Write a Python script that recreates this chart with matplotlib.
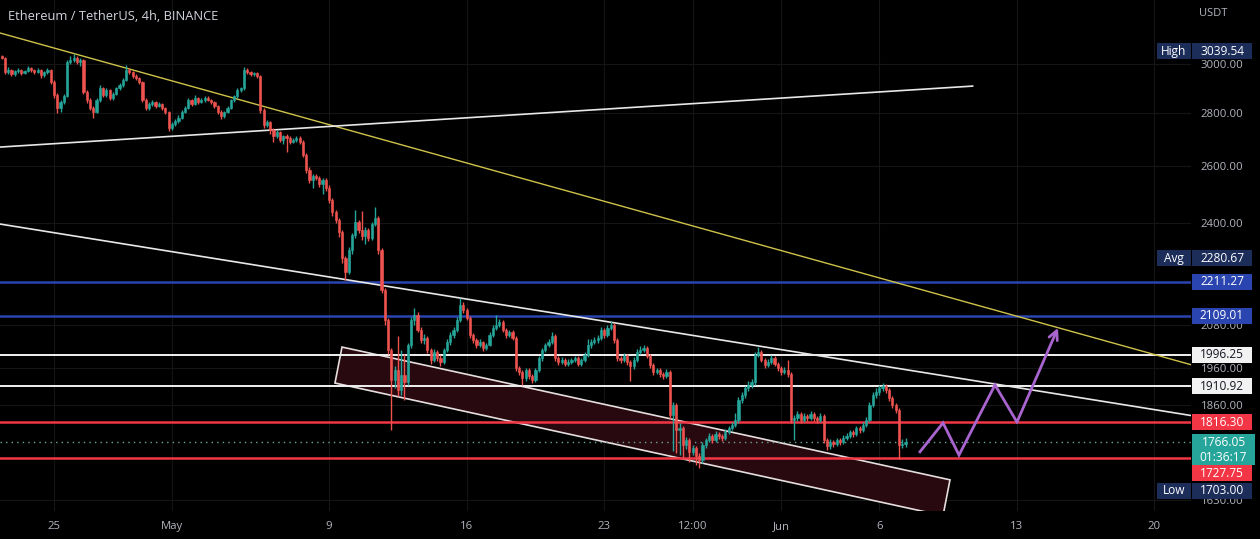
import matplotlib
matplotlib.use("Agg")
import matplotlib.pyplot as plt
import matplotlib.dates as mdates
import numpy as np
import pandas as pd
from matplotlib.patches import Polygon, Rectangle
from matplotlib.ticker import FixedLocator, NullLocator, FuncFormatter

plt.rcParams['font.family'] = ['Open Sans', 'DejaVu Sans']

# ETHUSDT 4h candles (open = previous close)
START = "2022-04-22 08:00"
FIRST_OPEN = 3034
closes = [
    3024, 2964, 2972, 2956, 2968, 2972, 2960, 2968, 2981, 2972,
    2964, 2972, 2952, 2964, 2972, 2924, 2871, 2819, 2843, 2867,
    3007, 3016, 3024, 3007, 3016, 2883, 2851, 2819, 2803, 2851,
    2899, 2871, 2891, 2859, 2875, 2899, 2911, 2932, 2972, 2964,
    2948, 2940, 2924, 2851, 2819, 2835, 2843, 2827, 2835, 2819,
    2803, 2742, 2757, 2769, 2781, 2803, 2819, 2851, 2835, 2859,
    2843, 2851, 2859, 2851, 2843, 2827, 2803, 2788, 2803, 2819,
    2851, 2867, 2891, 2899, 2972, 2964, 2956, 2960, 2948, 2811,
    2753, 2765, 2734, 2711, 2726, 2696, 2711, 2704, 2689, 2696,
    2704, 2689, 2641, 2586, 2550, 2564, 2557, 2536, 2550, 2522,
    2479, 2438, 2411, 2370, 2285, 2242, 2311, 2360, 2404, 2377,
    2357, 2377, 2350, 2397, 2418, 2311, 2186, 2096, 2010, 1927,
    1954, 1900, 1940, 1922, 2024, 2096, 2110, 2067, 2038, 2044,
    2010, 1982, 2004, 1987, 1976, 2010, 2032, 2052, 2067, 2096,
    2140, 2125, 2102, 2052, 2038, 2024, 2032, 2016, 2024, 2052,
    2073, 2082, 2090, 2067, 2052, 2061, 2044, 1960, 1949, 1932,
    1954, 1938, 1927, 1954, 1987, 2010, 2024, 2032, 2050, 1987,
    1976, 1982, 1971, 1976, 1982, 1987, 1971, 1982, 1996, 2024,
    2032, 2038, 2044, 2067, 2052, 2073, 2082, 2038, 1987, 1982,
    1993, 1976, 1965, 1982, 2004, 2010, 2016, 1993, 1968, 1949,
    1954, 1943, 1938, 1949, 1835, 1861, 1797, 1802, 1760, 1772,
    1742, 1752, 1733, 1723, 1760, 1772, 1782, 1772, 1787, 1782,
    1777, 1792, 1802, 1810, 1822, 1874, 1887, 1905, 1913, 1922,
    1996, 2004, 1982, 1968, 1976, 1987, 1971, 1960, 1949, 1954,
    1943, 1822, 1827, 1838, 1822, 1833, 1827, 1838, 1827, 1822,
    1833, 1772, 1757, 1767, 1762, 1772, 1767, 1777, 1782, 1792,
    1787, 1802, 1797, 1810, 1822, 1861, 1887, 1895, 1905, 1911,
    1900, 1879, 1861, 1848, 1760, 1762, 1766.05,
]
highs = [
    3036, 3028, 2985, 2978, 2975, 2982, 2978, 2974, 2990, 2986,
    2977, 2980, 2976, 2970, 2982, 2978, 2930, 2880, 2850, 2875,
    3015, 3030, 3039.54, 3032, 3024, 3020, 2890, 2858, 2826, 2858,
    2910, 2905, 2898, 2896, 2882, 2905, 2920, 2940, 2994, 2980,
    2970, 2955, 2946, 2928, 2858, 2842, 2850, 2848, 2845, 2840,
    2825, 2808, 2765, 2775, 2790, 2812, 2826, 2860, 2856, 2870,
    2864, 2858, 2866, 2868, 2856, 2848, 2832, 2810, 2808, 2826,
    2856, 2872, 2898, 2905, 2985, 2980, 2970, 2966, 2964, 2952,
    2818, 2774, 2770, 2740, 2732, 2730, 2716, 2720, 2712, 2704,
    2712, 2710, 2694, 2648, 2595, 2572, 2570, 2562, 2558, 2556,
    2530, 2486, 2445, 2418, 2376, 2292, 2320, 2368, 2445, 2412,
    2440, 2388, 2384, 2405, 2455, 2425, 2318, 2192, 2102, 2016,
    1965, 2050, 2010, 1998, 2030, 2105, 2130, 2118, 2075, 2055,
    2050, 2016, 2012, 2010, 1995, 2016, 2040, 2060, 2075, 2104,
    2160, 2148, 2132, 2108, 2058, 2044, 2040, 2036, 2030, 2060,
    2080, 2110, 2098, 2096, 2072, 2068, 2066, 2050, 1966, 1955,
    1960, 1960, 1944, 1960, 1994, 2016, 2030, 2040, 2060, 2055,
    1994, 1990, 1988, 1984, 1988, 1994, 1992, 1988, 2004, 2040,
    2040, 2046, 2052, 2075, 2072, 2080, 2092, 2088, 2044, 1994,
    2000, 1998, 1982, 1990, 2012, 2022, 2024, 2020, 1998, 1974,
    1960, 1960, 1950, 1956, 1954, 1870, 1866, 1815, 1808, 1780,
    1778, 1760, 1758, 1740, 1766, 1778, 1790, 1788, 1794, 1792,
    1788, 1800, 1808, 1818, 1840, 1882, 1895, 1912, 1925, 1930,
    2004, 2018, 2010, 1988, 1984, 1996, 1992, 1976, 1966, 1962,
    1982, 1948, 1835, 1845, 1842, 1840, 1838, 1845, 1842, 1832,
    1840, 1838, 1778, 1774, 1772, 1778, 1776, 1784, 1790, 1798,
    1796, 1808, 1806, 1816, 1830, 1868, 1894, 1905, 1914, 1920,
    1916, 1905, 1884, 1866, 1852, 1775, 1778,
]
lows = [
    3018, 2955, 2958, 2948, 2950, 2962, 2952, 2955, 2963, 2966,
    2958, 2960, 2940, 2946, 2958, 2915, 2860, 2800, 2805, 2835,
    2862, 2998, 3005, 2998, 2990, 2875, 2840, 2810, 2780, 2798,
    2845, 2864, 2862, 2850, 2852, 2870, 2892, 2905, 2926, 2955,
    2940, 2932, 2915, 2845, 2810, 2812, 2828, 2820, 2822, 2812,
    2795, 2730, 2735, 2750, 2762, 2776, 2798, 2815, 2828, 2830,
    2836, 2838, 2845, 2846, 2836, 2820, 2795, 2775, 2782, 2798,
    2815, 2845, 2860, 2882, 2893, 2955, 2948, 2950, 2940, 2800,
    2740, 2746, 2720, 2690, 2705, 2688, 2680, 2650, 2682, 2684,
    2690, 2680, 2632, 2575, 2540, 2520, 2548, 2525, 2500, 2512,
    2470, 2425, 2400, 2355, 2270, 2217, 2236, 2300, 2352, 2368,
    2345, 2330, 2340, 2345, 2390, 2300, 2175, 2080, 1998, 1797,
    1905, 1885, 1888, 1874, 1915, 2015, 2080, 2060, 2030, 2028,
    2000, 1972, 1976, 1978, 1965, 1970, 2004, 2025, 2045, 2060,
    2090, 2115, 2095, 2045, 2030, 2016, 2018, 2008, 2010, 2020,
    2046, 2066, 2075, 2060, 2045, 2046, 2038, 1952, 1940, 1913,
    1925, 1930, 1920, 1922, 1948, 1980, 2004, 2018, 2026, 1980,
    1968, 1970, 1964, 1966, 1970, 1976, 1964, 1966, 1976, 1990,
    2016, 2026, 2030, 2038, 2045, 2046, 2066, 2030, 1980, 1974,
    1976, 1968, 1925, 1958, 1976, 1998, 2004, 1986, 1960, 1942,
    1944, 1936, 1930, 1932, 1825, 1745, 1740, 1735, 1728, 1750,
    1718, 1735, 1712, 1703, 1716, 1752, 1766, 1765, 1768, 1775,
    1770, 1772, 1786, 1796, 1805, 1815, 1866, 1880, 1898, 1905,
    1915, 1990, 1975, 1960, 1962, 1970, 1965, 1952, 1942, 1944,
    1935, 1815, 1772, 1820, 1815, 1816, 1820, 1822, 1820, 1814,
    1816, 1765, 1748, 1750, 1754, 1756, 1760, 1762, 1772, 1776,
    1780, 1782, 1790, 1792, 1804, 1816, 1855, 1880, 1888, 1898,
    1892, 1872, 1854, 1840, 1725, 1752, 1755,
]

AVG_PRICE = 2280.67
COUNTDOWN = "01:36:17"

levels = [2211.27, 2109.01, 1996.25, 1910.92, 1816.30, 1727.75]
level_kinds = ["blue", "blue", "white", "white", "red", "red"]

price_ticks = [3000, 2800, 2600, 2400, 2080, 1960, 1860, 1630]
date_ticks = ["2022-04-25", "2022-05-01", "2022-05-09", "2022-05-16", "2022-05-23",
              "2022-05-27 12:00", "2022-06-01", "2022-06-06", "2022-06-13", "2022-06-20"]
date_labels = ["25", "May", "9", "16", "23", "12:00", "Jun", "6", "13", "20"]

# drawings (time, price anchors)
yellow_line = [("2022-04-25 00:00", 3066), ("2022-06-13 00:00", 2107)]
white_rising = [("2022-04-20 00:00", 2659), ("2022-06-10 18:00", 2907)]
white_falling = [("2022-04-25 00:00", 2368), ("2022-06-13 00:00", 1907)]
channel_box = [("2022-05-09 15:45", 2018), ("2022-06-09 14:20", 1676),
               ("2022-06-09 05:50", 1594), ("2022-05-09 07:10", 1919)]
projection = [("2022-06-08 01:40", 1743), ("2022-06-09 05:50", 1815),
              ("2022-06-10 01:20", 1735), ("2022-06-11 21:20", 1914),
              ("2022-06-13 00:10", 1817), ("2022-06-15 02:15", 2073)]

UP, DOWN = "#26a69a", "#ef5350"
LEVEL_COL = {"blue": "#2a44b0", "white": "#f2f2f2", "red": "#f23645"}
TXT = "#b2b5be"
NAVY = "#1c2d5a"


def tnum(s):
    return mdates.date2num(pd.Timestamp(s).to_pydatetime())


def pts(anchors):
    return [tnum(t) for t, _ in anchors], [p for _, p in anchors]


fig = plt.figure(figsize=(12.6, 5.39), dpi=100, facecolor="black")
ax = fig.add_axes([0, 28 / 539, 1191 / 1260, 511 / 539])
ax.set_facecolor("black")
ax.set_yscale("log")

# candles
t = mdates.date2num(pd.date_range(START, periods=len(closes), freq="4h").to_pydatetime())
c = np.array(closes, dtype=float)
o = np.concatenate([[FIRST_OPEN], c[:-1]])
h = np.maximum(np.array(highs, dtype=float), np.maximum(o, c))
l = np.minimum(np.array(lows, dtype=float), np.minimum(o, c))
cols = np.where(c >= o, UP, DOWN)
ax.vlines(t, l, h, colors=cols, lw=1, zorder=4)
ax.bar(t, np.abs(c - o), bottom=np.minimum(o, c), width=4 / 24 * 0.66,
       color=cols, edgecolor=cols, linewidth=0.4, zorder=5)

# horizontal levels and last price
for lv, kind in zip(levels, level_kinds):
    ax.axhline(lv, color=LEVEL_COL[kind], lw=1.8 if kind != "white" else 1.4, zorder=3)
ax.axhline(c[-1], color="#6fa59c", lw=1, ls=(0, (1, 3)), zorder=3)

# rotated rectangle channel
bx, by = pts(channel_box)
ax.add_patch(Polygon(list(zip(bx, by)), closed=True, facecolor="#280910",
                     edgecolor="#e6dede", lw=1.2, zorder=2))

# trend lines
yx, yy = pts(yellow_line)
ax.axline((yx[0], yy[0]), (yx[1], yy[1]), color="#cfc24a", lw=1, zorder=3)
fx, fy = pts(white_falling)
ax.axline((fx[0], fy[0]), (fx[1], fy[1]), color="#e8e8e8", lw=1.2, zorder=3)
rx, ry = pts(white_rising)
ax.plot(rx, ry, color="#e8e8e8", lw=1.2, zorder=3)

# projected path
px, pp = pts(projection)
ax.plot(px[:-1], pp[:-1], color="#a864cf", lw=2, zorder=6, solid_joinstyle="miter")
ax.annotate("", xy=(px[-1], pp[-1]), xytext=(px[-2], pp[-2]),
            arrowprops=dict(arrowstyle="->", color="#a864cf", lw=2, mutation_scale=16,
                            shrinkA=0, shrinkB=0), zorder=6)

day0 = tnum("2022-04-25")
ax.set_xlim(day0 - 54 / 19.65, day0 + (1191 - 54) / 19.65)
ax.set_ylim(1604.5, 3279)

ax.yaxis.tick_right()
ax.yaxis.set_major_locator(FixedLocator(price_ticks))
ax.yaxis.set_minor_locator(NullLocator())
ax.yaxis.set_major_formatter(FuncFormatter(lambda v, _: f"{v:.2f}"))
ax.tick_params(axis="y", length=0, pad=7, labelsize=8.2, labelcolor=TXT)
ax.set_xticks([tnum(d) for d in date_ticks])
ax.set_xticklabels(date_labels)
ax.tick_params(axis="x", length=0, pad=7, labelsize=8.2, labelcolor=TXT)
ax.grid(True, color="#151515", lw=0.8)
ax.set_axisbelow(True)
for s in ax.spines.values():
    s.set_visible(False)

# overlay for price-scale labels and header
ov = fig.add_axes([0, 0, 1, 1], zorder=10)
ov.set_xlim(0, 1260)
ov.set_ylim(539, 0)
ov.axis("off")
ov.patch.set_alpha(0)

fig.canvas.draw()


def py(price):
    return 539 - ax.transData.transform((ax.get_xlim()[0], price))[1]


def box(y, text, bg, fg, x0=1192, w=60, hgt=16, weight="normal"):
    ov.add_patch(Rectangle((x0, y - hgt / 2), w, hgt, facecolor=bg, edgecolor="none"))
    ov.text(x0 + w / 2, y, text, color=fg, ha="center", va="center",
            fontsize=8.6, fontweight=weight)


def stat_box(y, name, value):
    box(y, name, NAVY, "white", x0=1157, w=34)
    box(y, value, NAVY, "white")


stat_box(py(h.max()) - 3, "High", f"{h.max():.2f}")
stat_box(py(AVG_PRICE) - 1.5, "Avg", f"{AVG_PRICE:.2f}")
for lv, kind in zip(levels, level_kinds):
    shift = 15 if lv == levels[-1] else 0
    fg = "#131722" if kind == "white" else "white"
    box(py(lv) + shift, f"{lv:.2f}", LEVEL_COL[kind], fg)
yl = py(c[-1])
ov.add_patch(Rectangle((1192, yl - 8), 63, 31, facecolor=UP, edgecolor="none"))
ov.text(1223.5, yl, f"{c[-1]:.2f}", color="white", ha="center", va="center", fontsize=8.6)
ov.text(1223.5, yl + 15, COUNTDOWN, color="white", ha="center", va="center", fontsize=8.6)
stat_box(py(l.min()) + 22.5, "Low", f"{l.min():.2f}")

ov.text(8, 16, "Ethereum / TetherUS, 4h, BINANCE", color="#d1d4dc", fontsize=9.3,
        ha="left", va="center")
ov.text(1213, 14, "USDT", color=TXT, fontsize=8, ha="center", va="center")

fig.savefig("out.png", dpi=100, facecolor="black")
